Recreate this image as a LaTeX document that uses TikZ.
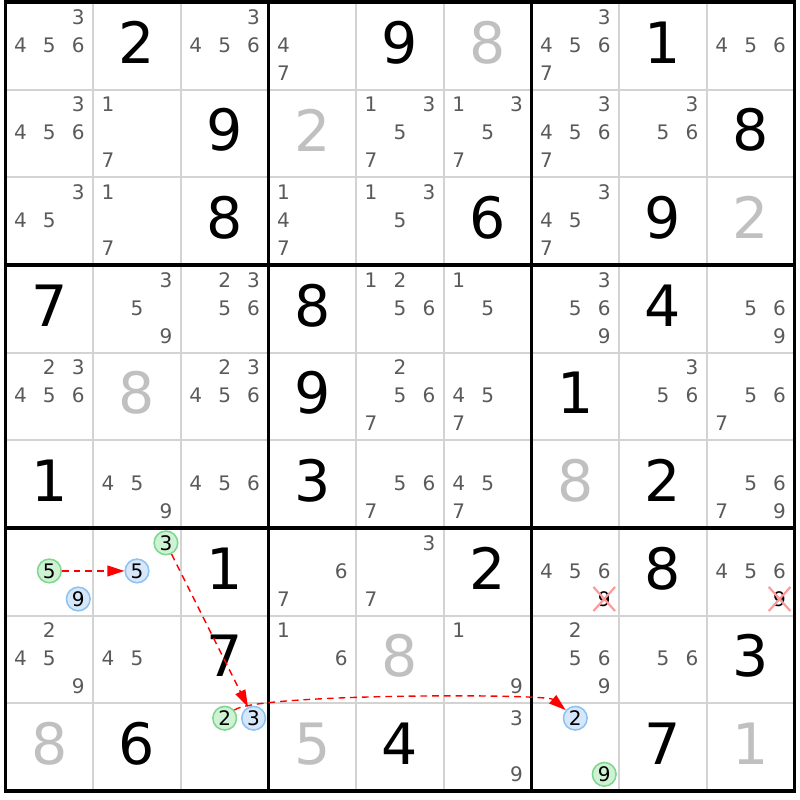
\documentclass[tikz,border=0pt]{standalone}
\usepackage{fontspec}
\setmainfont{DejaVu Sans}
\usepackage{tikz}
\usetikzlibrary{arrows.meta,shapes.misc}
\usepackage{xcolor}

\definecolor{candgray}{RGB}{90,90,90}
\definecolor{solvedgray}{RGB}{192,192,192}
\definecolor{gridgray}{RGB}{211,211,211}
\definecolor{markgreen}{RGB}{125,215,140}
\definecolor{markgreenfill}{RGB}{206,242,212}
\definecolor{markblue}{RGB}{142,194,242}
\definecolor{markbluefill}{RGB}{214,231,250}

\begin{document}
\begin{tikzpicture}[
  cand/.style={text=candgray, font=\fontsize{6.5}{7.5}\selectfont, inner sep=0pt},
  given/.style={text=black, font=\fontsize{18.5}{20}\selectfont, inner sep=0pt},
  solved/.style={given, text=solvedgray},
  gmark/.style={cand, text=black, circle, draw=markgreen, fill=markgreenfill, line width=0.5pt, minimum size=0.27cm},
  bmark/.style={cand, text=black, circle, draw=markblue, fill=markbluefill, line width=0.5pt, minimum size=0.27cm},
  elim/.style={cand, text=black, cross out, draw=red!40, line width=0.7pt, inner sep=1.1pt},
  thinline/.style={gridgray, line width=0.65pt},
  thickline/.style={black, line width=1.07pt},
  chainarrow/.style={red, line width=0.45pt, dash pattern=on 2.2pt off 1.6pt, -{Triangle[length=5.5pt,width=3.5pt]}}
]
\useasboundingbox (-0.063,-0.103) rectangle (9.057,9.023);

\draw[thinline] (1,0) -- (1,9);
\draw[thinline] (2,0) -- (2,9);
\draw[thinline] (4,0) -- (4,9);
\draw[thinline] (5,0) -- (5,9);
\draw[thinline] (7,0) -- (7,9);
\draw[thinline] (8,0) -- (8,9);
\draw[thinline] (0,1) -- (9,1);
\draw[thinline] (0,2) -- (9,2);
\draw[thinline] (0,4) -- (9,4);
\draw[thinline] (0,5) -- (9,5);
\draw[thinline] (0,7) -- (9,7);
\draw[thinline] (0,8) -- (9,8);

\draw[thickline] (3,0) -- (3,9);
\draw[thickline] (6,0) -- (6,9);
\draw[thickline] (0,3) -- (9,3);
\draw[thickline] (0,6) -- (9,6);
\draw[thickline] (0,0) rectangle (9,9);

\node[cand] (r0c0-3) at (0.83,8.83) {3};
\node[cand] (r0c0-4) at (0.17,8.51) {4};
\node[cand] (r0c0-5) at (0.50,8.51) {5};
\node[cand] (r0c0-6) at (0.83,8.51) {6};
\node[given] (r0c1) at (1.5,8.54) {2};
\node[cand] (r0c2-3) at (2.83,8.83) {3};
\node[cand] (r0c2-4) at (2.17,8.51) {4};
\node[cand] (r0c2-5) at (2.50,8.51) {5};
\node[cand] (r0c2-6) at (2.83,8.51) {6};
\node[cand] (r0c3-4) at (3.17,8.51) {4};
\node[cand] (r0c3-7) at (3.17,8.19) {7};
\node[given] (r0c4) at (4.5,8.54) {9};
\node[solved] (r0c5) at (5.5,8.54) {8};
\node[cand] (r0c6-3) at (6.83,8.83) {3};
\node[cand] (r0c6-4) at (6.17,8.51) {4};
\node[cand] (r0c6-5) at (6.50,8.51) {5};
\node[cand] (r0c6-6) at (6.83,8.51) {6};
\node[cand] (r0c6-7) at (6.17,8.19) {7};
\node[given] (r0c7) at (7.5,8.54) {1};
\node[cand] (r0c8-4) at (8.17,8.51) {4};
\node[cand] (r0c8-5) at (8.50,8.51) {5};
\node[cand] (r0c8-6) at (8.83,8.51) {6};

\node[cand] (r1c0-3) at (0.83,7.83) {3};
\node[cand] (r1c0-4) at (0.17,7.51) {4};
\node[cand] (r1c0-5) at (0.50,7.51) {5};
\node[cand] (r1c0-6) at (0.83,7.51) {6};
\node[cand] (r1c1-1) at (1.17,7.83) {1};
\node[cand] (r1c1-7) at (1.17,7.19) {7};
\node[given] (r1c2) at (2.5,7.54) {9};
\node[solved] (r1c3) at (3.5,7.54) {2};
\node[cand] (r1c4-1) at (4.17,7.83) {1};
\node[cand] (r1c4-3) at (4.83,7.83) {3};
\node[cand] (r1c4-5) at (4.50,7.51) {5};
\node[cand] (r1c4-7) at (4.17,7.19) {7};
\node[cand] (r1c5-1) at (5.17,7.83) {1};
\node[cand] (r1c5-3) at (5.83,7.83) {3};
\node[cand] (r1c5-5) at (5.50,7.51) {5};
\node[cand] (r1c5-7) at (5.17,7.19) {7};
\node[cand] (r1c6-3) at (6.83,7.83) {3};
\node[cand] (r1c6-4) at (6.17,7.51) {4};
\node[cand] (r1c6-5) at (6.50,7.51) {5};
\node[cand] (r1c6-6) at (6.83,7.51) {6};
\node[cand] (r1c6-7) at (6.17,7.19) {7};
\node[cand] (r1c7-3) at (7.83,7.83) {3};
\node[cand] (r1c7-5) at (7.50,7.51) {5};
\node[cand] (r1c7-6) at (7.83,7.51) {6};
\node[given] (r1c8) at (8.5,7.54) {8};

\node[cand] (r2c0-3) at (0.83,6.83) {3};
\node[cand] (r2c0-4) at (0.17,6.51) {4};
\node[cand] (r2c0-5) at (0.50,6.51) {5};
\node[cand] (r2c1-1) at (1.17,6.83) {1};
\node[cand] (r2c1-7) at (1.17,6.19) {7};
\node[given] (r2c2) at (2.5,6.54) {8};
\node[cand] (r2c3-1) at (3.17,6.83) {1};
\node[cand] (r2c3-4) at (3.17,6.51) {4};
\node[cand] (r2c3-7) at (3.17,6.19) {7};
\node[cand] (r2c4-1) at (4.17,6.83) {1};
\node[cand] (r2c4-3) at (4.83,6.83) {3};
\node[cand] (r2c4-5) at (4.50,6.51) {5};
\node[given] (r2c5) at (5.5,6.54) {6};
\node[cand] (r2c6-3) at (6.83,6.83) {3};
\node[cand] (r2c6-4) at (6.17,6.51) {4};
\node[cand] (r2c6-5) at (6.50,6.51) {5};
\node[cand] (r2c6-7) at (6.17,6.19) {7};
\node[given] (r2c7) at (7.5,6.54) {9};
\node[solved] (r2c8) at (8.5,6.54) {2};

\node[given] (r3c0) at (0.5,5.54) {7};
\node[cand] (r3c1-3) at (1.83,5.83) {3};
\node[cand] (r3c1-5) at (1.50,5.51) {5};
\node[cand] (r3c1-9) at (1.83,5.19) {9};
\node[cand] (r3c2-2) at (2.50,5.83) {2};
\node[cand] (r3c2-3) at (2.83,5.83) {3};
\node[cand] (r3c2-5) at (2.50,5.51) {5};
\node[cand] (r3c2-6) at (2.83,5.51) {6};
\node[given] (r3c3) at (3.5,5.54) {8};
\node[cand] (r3c4-1) at (4.17,5.83) {1};
\node[cand] (r3c4-2) at (4.50,5.83) {2};
\node[cand] (r3c4-5) at (4.50,5.51) {5};
\node[cand] (r3c4-6) at (4.83,5.51) {6};
\node[cand] (r3c5-1) at (5.17,5.83) {1};
\node[cand] (r3c5-5) at (5.50,5.51) {5};
\node[cand] (r3c6-3) at (6.83,5.83) {3};
\node[cand] (r3c6-5) at (6.50,5.51) {5};
\node[cand] (r3c6-6) at (6.83,5.51) {6};
\node[cand] (r3c6-9) at (6.83,5.19) {9};
\node[given] (r3c7) at (7.5,5.54) {4};
\node[cand] (r3c8-5) at (8.50,5.51) {5};
\node[cand] (r3c8-6) at (8.83,5.51) {6};
\node[cand] (r3c8-9) at (8.83,5.19) {9};

\node[cand] (r4c0-2) at (0.50,4.83) {2};
\node[cand] (r4c0-3) at (0.83,4.83) {3};
\node[cand] (r4c0-4) at (0.17,4.51) {4};
\node[cand] (r4c0-5) at (0.50,4.51) {5};
\node[cand] (r4c0-6) at (0.83,4.51) {6};
\node[solved] (r4c1) at (1.5,4.54) {8};
\node[cand] (r4c2-2) at (2.50,4.83) {2};
\node[cand] (r4c2-3) at (2.83,4.83) {3};
\node[cand] (r4c2-4) at (2.17,4.51) {4};
\node[cand] (r4c2-5) at (2.50,4.51) {5};
\node[cand] (r4c2-6) at (2.83,4.51) {6};
\node[given] (r4c3) at (3.5,4.54) {9};
\node[cand] (r4c4-2) at (4.50,4.83) {2};
\node[cand] (r4c4-5) at (4.50,4.51) {5};
\node[cand] (r4c4-6) at (4.83,4.51) {6};
\node[cand] (r4c4-7) at (4.17,4.19) {7};
\node[cand] (r4c5-4) at (5.17,4.51) {4};
\node[cand] (r4c5-5) at (5.50,4.51) {5};
\node[cand] (r4c5-7) at (5.17,4.19) {7};
\node[given] (r4c6) at (6.5,4.54) {1};
\node[cand] (r4c7-3) at (7.83,4.83) {3};
\node[cand] (r4c7-5) at (7.50,4.51) {5};
\node[cand] (r4c7-6) at (7.83,4.51) {6};
\node[cand] (r4c8-5) at (8.50,4.51) {5};
\node[cand] (r4c8-6) at (8.83,4.51) {6};
\node[cand] (r4c8-7) at (8.17,4.19) {7};

\node[given] (r5c0) at (0.5,3.54) {1};
\node[cand] (r5c1-4) at (1.17,3.51) {4};
\node[cand] (r5c1-5) at (1.50,3.51) {5};
\node[cand] (r5c1-9) at (1.83,3.19) {9};
\node[cand] (r5c2-4) at (2.17,3.51) {4};
\node[cand] (r5c2-5) at (2.50,3.51) {5};
\node[cand] (r5c2-6) at (2.83,3.51) {6};
\node[given] (r5c3) at (3.5,3.54) {3};
\node[cand] (r5c4-5) at (4.50,3.51) {5};
\node[cand] (r5c4-6) at (4.83,3.51) {6};
\node[cand] (r5c4-7) at (4.17,3.19) {7};
\node[cand] (r5c5-4) at (5.17,3.51) {4};
\node[cand] (r5c5-5) at (5.50,3.51) {5};
\node[cand] (r5c5-7) at (5.17,3.19) {7};
\node[solved] (r5c6) at (6.5,3.54) {8};
\node[given] (r5c7) at (7.5,3.54) {2};
\node[cand] (r5c8-5) at (8.50,3.51) {5};
\node[cand] (r5c8-6) at (8.83,3.51) {6};
\node[cand] (r5c8-7) at (8.17,3.19) {7};
\node[cand] (r5c8-9) at (8.83,3.19) {9};

\node[gmark] (r6c0-5) at (0.50,2.51) {5};
\node[bmark] (r6c0-9) at (0.83,2.19) {9};
\node[gmark] (r6c1-3) at (1.83,2.83) {3};
\node[bmark] (r6c1-5) at (1.50,2.51) {5};
\node[given] (r6c2) at (2.5,2.54) {1};
\node[cand] (r6c3-6) at (3.83,2.51) {6};
\node[cand] (r6c3-7) at (3.17,2.19) {7};
\node[cand] (r6c4-3) at (4.83,2.83) {3};
\node[cand] (r6c4-7) at (4.17,2.19) {7};
\node[given] (r6c5) at (5.5,2.54) {2};
\node[cand] (r6c6-4) at (6.17,2.51) {4};
\node[cand] (r6c6-5) at (6.50,2.51) {5};
\node[cand] (r6c6-6) at (6.83,2.51) {6};
\node[elim] (r6c6-9) at (6.83,2.19) {9};
\node[given] (r6c7) at (7.5,2.54) {8};
\node[cand] (r6c8-4) at (8.17,2.51) {4};
\node[cand] (r6c8-5) at (8.50,2.51) {5};
\node[cand] (r6c8-6) at (8.83,2.51) {6};
\node[elim] (r6c8-9) at (8.83,2.19) {9};

\node[cand] (r7c0-2) at (0.50,1.83) {2};
\node[cand] (r7c0-4) at (0.17,1.51) {4};
\node[cand] (r7c0-5) at (0.50,1.51) {5};
\node[cand] (r7c0-9) at (0.83,1.19) {9};
\node[cand] (r7c1-4) at (1.17,1.51) {4};
\node[cand] (r7c1-5) at (1.50,1.51) {5};
\node[given] (r7c2) at (2.5,1.54) {7};
\node[cand] (r7c3-1) at (3.17,1.83) {1};
\node[cand] (r7c3-6) at (3.83,1.51) {6};
\node[solved] (r7c4) at (4.5,1.54) {8};
\node[cand] (r7c5-1) at (5.17,1.83) {1};
\node[cand] (r7c5-9) at (5.83,1.19) {9};
\node[cand] (r7c6-2) at (6.50,1.83) {2};
\node[cand] (r7c6-5) at (6.50,1.51) {5};
\node[cand] (r7c6-6) at (6.83,1.51) {6};
\node[cand] (r7c6-9) at (6.83,1.19) {9};
\node[cand] (r7c7-5) at (7.50,1.51) {5};
\node[cand] (r7c7-6) at (7.83,1.51) {6};
\node[given] (r7c8) at (8.5,1.54) {3};

\node[solved] (r8c0) at (0.5,0.54) {8};
\node[given] (r8c1) at (1.5,0.54) {6};
\node[gmark] (r8c2-2) at (2.50,0.83) {2};
\node[bmark] (r8c2-3) at (2.83,0.83) {3};
\node[solved] (r8c3) at (3.5,0.54) {5};
\node[given] (r8c4) at (4.5,0.54) {4};
\node[cand] (r8c5-3) at (5.83,0.83) {3};
\node[cand] (r8c5-9) at (5.83,0.19) {9};
\node[bmark] (r8c6-2) at (6.50,0.83) {2};
\node[gmark] (r8c6-9) at (6.83,0.19) {9};
\node[given] (r8c7) at (7.5,0.54) {7};
\node[solved] (r8c8) at (8.5,0.54) {1};

\draw[chainarrow] (r6c0-5) -- (r6c1-5);
\draw[chainarrow] (r6c1-3) -- (r8c2-3);
\draw[chainarrow] (r8c2-2) to[out=40, in=140, looseness=0.2] (r8c6-2);

\end{tikzpicture}
\end{document}
